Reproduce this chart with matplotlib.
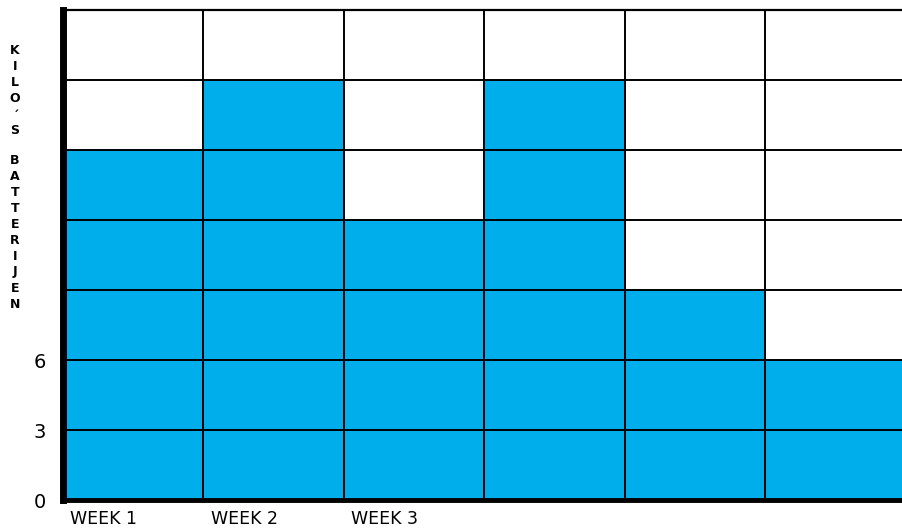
import matplotlib
matplotlib.use("Agg")
from matplotlib import pyplot as plt

# kilo's batterijen per week
weeks = [1, 2, 3, 4, 5, 6]
kilos = [15, 18, 12, 18, 9, 6]
week_labels = ["WEEK 1", "WEEK 2", "WEEK 3"]
y_ticks = [0, 3, 6]
y_label = "KILO'S BATTERIJEN"

fill = "#00AEEC"

fig = plt.figure(figsize=(9.03, 5.29), dpi=100)
ax = fig.add_axes([63 / 903, 29 / 529, 843 / 903, 490 / 529])

# one column per week, bars fill the whole cell
ax.bar([w - 1 for w in weeks], kilos, width=1.0, align="edge",
       color=fill, edgecolor="none", zorder=1)

ax.set_xlim(0, 6)
ax.set_ylim(0, 21)

# grid: every 3 kilo and every week
for y in range(3, 21, 3):
    ax.axhline(y, color="black", lw=1.4, zorder=3)
for x in range(1, 6):
    ax.axvline(x, color="black", lw=1.4, zorder=3)

ax.spines["left"].set_linewidth(5)
ax.spines["bottom"].set_linewidth(3.5)
ax.spines["top"].set_linewidth(1.6)
ax.spines["right"].set_linewidth(1.4)
for s in ax.spines.values():
    s.set_zorder(4)

ax.set_xticks([])
ax.set_yticks(y_ticks)
ax.set_yticklabels([str(t) for t in y_ticks], fontsize=14)
ax.tick_params(axis="y", length=0, pad=12)

for i, lab in enumerate(week_labels):
    ax.text(i + 0.05, -0.45, lab, fontsize=12.5, ha="left", va="top",
            transform=ax.transData)

# vertical label, one letter under the other
y_px = 50
for ch in y_label:
    if ch == " ":
        y_px += 14
        continue
    if ch == "'":
        # apostrophe as a short stroke in its own slot above the S
        fig.text(16 / 903, 1 - (y_px + 2) / 529, "\u00b4", fontsize=9,
                 fontweight="bold", ha="center", va="center")
        y_px += 16
        continue
    fig.text(15 / 903, 1 - y_px / 529, ch, fontsize=9, fontweight="bold",
             ha="center", va="center")
    y_px += 16

fig.savefig("out.png", dpi=100)
